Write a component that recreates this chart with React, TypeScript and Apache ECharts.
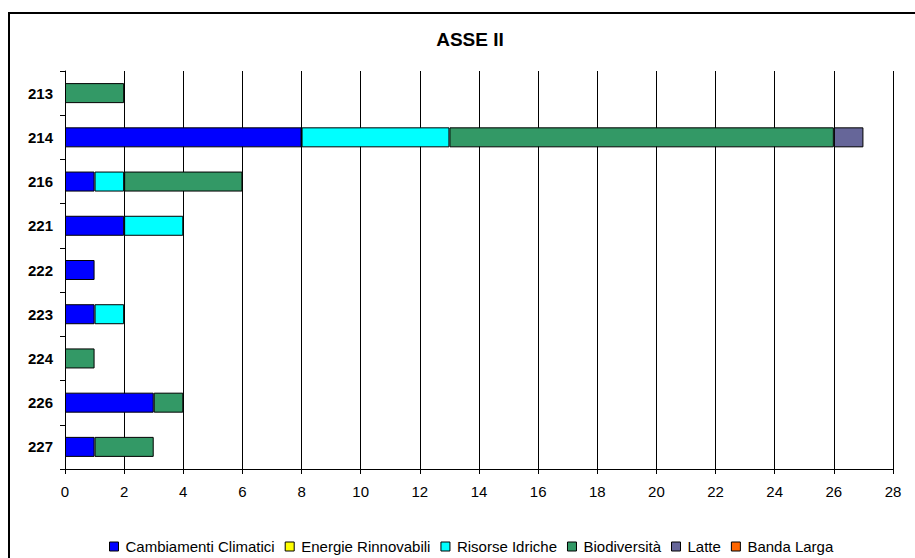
import React, { useEffect, useRef } from "react";
import * as echarts from "echarts";

const categories = ["213", "214", "216", "221", "222", "223", "224", "226", "227"];
const seriesNames = [
  "Cambiamenti Climatici",
  "Energie Rinnovabili",
  "Risorse Idriche",
  "Biodiversità",
  "Latte",
  "Banda Larga",
];
const cambiamentiClimatici = [0, 8, 1, 2, 1, 1, 0, 3, 1];
const energieRinnovabili = [0, 0, 0, 0, 0, 0, 0, 0, 0];
const risorseIdriche = [0, 5, 1, 2, 0, 1, 0, 0, 0];
const biodiversita = [2, 13, 4, 0, 0, 0, 1, 1, 2];
const latte = [0, 1, 0, 0, 0, 0, 0, 0, 0];
const bandaLarga = [0, 0, 0, 0, 0, 0, 0, 0, 0];
const colors = ["#0000FF", "#FFFF00", "#00FFFF", "#339966", "#666699", "#FF6600"];

const FONT = 'Arial, "Liberation Sans", sans-serif';

export default function App() {
  const ref = useRef<HTMLDivElement>(null);
  useEffect(() => {
    if (!ref.current) return;
    const chart = echarts.init(ref.current, undefined, { renderer: "svg" });
    const all = [cambiamentiClimatici, energieRinnovabili, risorseIdriche, biodiversita, latte, bandaLarga];
    chart.setOption({
      animation: false,
      backgroundColor: "#fff",
      title: {
        text: "ASSE II",
        left: 465,
        top: 25,
        textAlign: "center",
        textStyle: { fontFamily: FONT, fontSize: 19, fontWeight: "bold", color: "#000" },
      },
      legend: {
        top: 534,
        left: 104,
        itemWidth: 9,
        itemHeight: 9,
        itemGap: 10,
        icon: "rect",
        textStyle: { fontFamily: FONT, fontSize: 15, color: "#000", padding: [0, 0, 0, 2] },
        data: seriesNames.map((n, i) => ({
          name: n,
          itemStyle: { color: colors[i], borderColor: "#000", borderWidth: 1 },
        })),
      },
      graphic: [
        {
          type: "rect",
          shape: { x: 9, y: 13, width: 2000, height: 2000 },
          style: { fill: "none", stroke: "#000", lineWidth: 2 },
          z: 100,
        },
      ],
      grid: { left: 65, right: 22, top: 71, bottom: 89, containLabel: false },
      xAxis: {
        type: "value",
        min: 0,
        max: 28,
        interval: 2,
        axisLine: { show: true, lineStyle: { color: "#000", width: 1 } },
        axisTick: { show: true, length: 5, lineStyle: { color: "#000" } },
        axisLabel: { fontFamily: FONT, fontSize: 15, color: "#000", margin: 15 },
        splitLine: { show: true, lineStyle: { color: "#000", width: 1 } },
      },
      yAxis: {
        type: "category",
        inverse: true,
        data: categories,
        axisLine: { show: true, lineStyle: { color: "#000", width: 1 } },
        axisTick: { show: true, length: 5, alignWithLabel: false, lineStyle: { color: "#000" } },
        axisLabel: { fontFamily: FONT, fontSize: 15, fontWeight: "bold", color: "#000", margin: 12 },
      },
      series: seriesNames.map((n, i) => ({
        name: n,
        type: "bar",
        stack: "total",
        barWidth: 20,
        itemStyle: { color: colors[i], borderColor: "#000", borderWidth: 1 },
        data: all[i].map((v) => (v === 0 ? "-" : v)),
      })),
    });
    return () => chart.dispose();
  }, []);
  return (
    <div
      ref={ref}
      style={{ position: "absolute", left: 0, top: 0, width: 915, height: 558 }}
    />
  );
}
